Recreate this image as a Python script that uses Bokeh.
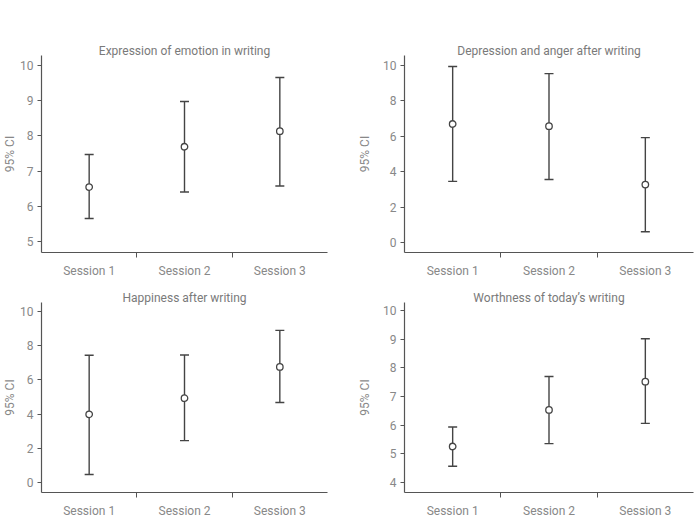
from bokeh.plotting import figure
from bokeh.models import (ColumnDataSource, Range1d, FixedTicker, Whisker, TeeHead)
from bokeh.layouts import column, row
from bokeh.embed import file_html
from bokeh.resources import INLINE

sessions = ["Session 1", "Session 2", "Session 3"]

titles = ["Expression of emotion in writing", "Depression and anger after writing",
          "Happiness after writing", "Worthness of today\u2019s writing"]

expr_mean = [6.55, 7.69, 8.13]
expr_lo = [5.66, 6.41, 6.58]
expr_hi = [7.47, 8.97, 9.65]

dep_mean = [6.69, 6.57, 3.28]
dep_lo = [3.46, 3.56, 0.62]
dep_hi = [9.93, 9.53, 5.92]

hap_mean = [3.99, 4.93, 6.75]
hap_lo = [0.49, 2.46, 4.68]
hap_hi = [7.43, 7.44, 8.88]

worth_mean = [5.25, 6.53, 7.52]
worth_lo = [4.56, 5.35, 6.06]
worth_hi = [5.93, 7.70, 9.02]

y_ticks_1 = [5, 6, 7, 8, 9, 10]
y_ticks_2 = [0, 2, 4, 6, 8, 10]
y_ticks_3 = [0, 2, 4, 6, 8, 10]
y_ticks_4 = [4, 5, 6, 7, 8, 9, 10]

FONT = "Roboto"
TXT = "#888888"
AX = "#555555"
BAR = "#444444"


def panel(title, mean, lo, hi, yticks, yr, width, height, bl, br, bt, bb, lab_standoff):
    xs = [i + 0.5 for i in range(len(sessions))]
    src = ColumnDataSource(dict(x=xs, m=mean, lo=lo, hi=hi))
    p = figure(width=width, height=height, output_backend="svg", toolbar_location=None,
               x_range=Range1d(0, len(sessions)), y_range=Range1d(*yr),
               min_border_left=bl, min_border_right=br, min_border_top=bt, min_border_bottom=bb)
    p.outline_line_color = None
    p.xgrid.visible = False
    p.ygrid.visible = False
    p.background_fill_color = "white"
    p.border_fill_color = "white"

    p.title.text = title
    p.title.align = "center"
    p.title.text_font = FONT
    p.title.text_font_size = "12px"
    p.title.text_font_style = "normal"
    p.title.text_color = "#7a7a7a"
    p.title.standoff = -4

    p.xaxis.ticker = FixedTicker(ticks=xs, minor_ticks=[i for i in range(1, len(sessions))])
    p.xaxis.major_label_overrides = {x: s for x, s in zip(xs, sessions)}
    p.xaxis.major_tick_line_color = None
    p.xaxis.major_tick_out = 0
    p.xaxis.major_tick_in = 0
    p.xaxis.minor_tick_out = 5
    p.xaxis.minor_tick_in = 0
    p.xaxis.minor_tick_line_color = AX
    p.xaxis.major_label_standoff = 6

    p.yaxis.ticker = FixedTicker(ticks=yticks, minor_ticks=[])
    p.yaxis.major_tick_out = 4
    p.yaxis.major_tick_in = 0
    p.yaxis.major_tick_line_color = AX
    p.yaxis.major_label_standoff = 4
    p.yaxis.axis_label = "95% CI"
    p.yaxis.axis_label_standoff = lab_standoff
    p.yaxis.axis_label_text_font = FONT
    p.yaxis.axis_label_text_font_size = "12px"
    p.yaxis.axis_label_text_font_style = "normal"
    p.yaxis.axis_label_text_color = TXT

    for ax in (p.xaxis, p.yaxis):
        ax.axis_line_color = AX
        ax.axis_line_width = 1.2
        ax.major_label_text_font = FONT
        ax.major_label_text_font_size = "12px"
        ax.major_label_text_color = TXT

    w = Whisker(source=src, base="x", lower="lo", upper="hi", dimension="height",
                line_color=BAR, line_width=1.4,
                lower_head=TeeHead(size=9, line_color=BAR, line_width=1.4),
                upper_head=TeeHead(size=9, line_color=BAR, line_width=1.4))
    p.add_layout(w)
    p.scatter("x", "m", source=src, size=6.5, marker="circle", fill_color="white",
              line_color=BAR, line_width=1.3)
    return p


p1 = panel(titles[0], expr_mean, expr_lo, expr_hi, y_ticks_1, (4.7, 10.27), 340, 280, 38, 13, 55, 27, 0)
p2 = panel(titles[1], dep_mean, dep_lo, dep_hi, y_ticks_2, (-0.55, 10.55), 359, 280, 64, 6, 55, 27, 8)
p3 = panel(titles[2], hap_mean, hap_lo, hap_hi, y_ticks_3, (-0.56, 10.5), 340, 240, 38, 13, 22, 21, 0)
p4 = panel(titles[3], worth_mean, worth_lo, worth_hi, y_ticks_4, (3.64, 10.29), 359, 240, 64, 6, 22, 21, 8)

layout = column(row(p1, p2), row(p3, p4))
open("out.html", "w").write(file_html(layout, INLINE))
